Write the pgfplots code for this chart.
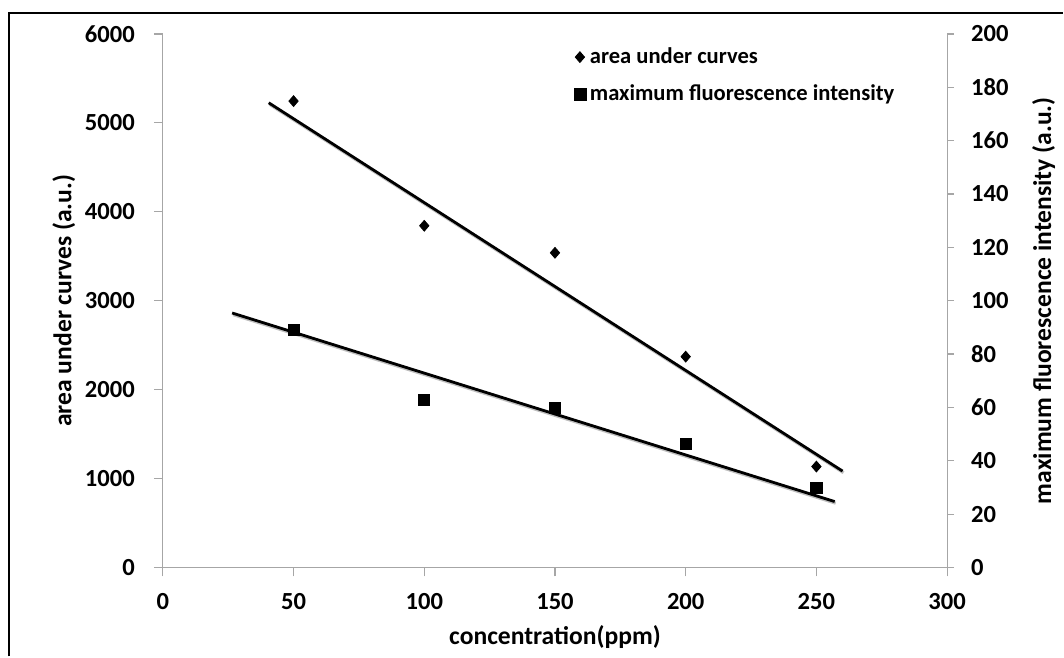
\documentclass[border=0pt]{standalone}
\usepackage{pgfplots}
\pgfplotsset{compat=1.18}
\usepackage{fontspec}
\setmainfont{Carlito}
\begin{document}
\begin{tikzpicture}[font=\bfseries]
\pgfplotsset{
  every axis/.append style={
    scale only axis, width=392.5pt, height=267pt,
    at={(81.5pt,44.5pt)}, anchor=south west,
    /pgf/number format/assume math mode=true,
    /pgf/number format/1000 sep={},
    tick label style={font=\fontsize{12.3}{14}\selectfont\bfseries},
    label style={font=\fontsize{12.8}{15}\selectfont\bfseries},
    xmin=0, xmax=300,
    axis line style={gray!70, line width=0.6pt},
    tick style={gray!70, line width=0.6pt},
    tick align=outside, major tick length=4.5pt,
  }
}
\begin{axis}[
  axis x line*=bottom, axis y line*=left,
  ymin=0, ymax=6000, ytick={0,1000,...,6000},
  xtick={0,50,...,300},
  xticklabel style={yshift=-5pt},
  yticklabel style={xshift=-6pt},
  ylabel={area under curves (a.u.)},
  xlabel={concentration(ppm)},
  xlabel style={yshift=-1pt},
  ylabel style={yshift=-2pt},
  legend style={draw=none, fill=none, at={(0.516,0.99)}, anchor=north west,
    font=\fontsize{11.3}{13}\selectfont\bfseries, row sep=5pt,
    legend cell align=left},
  legend image code/.code={\draw[#1] plot coordinates {(0.15cm,0cm)};},
]
\addplot[only marks, mark=diamond*, mark size=2.7pt, mark options={xscale=1.15}, black]
  coordinates {(50,5245) (100,3843) (150,3539) (200,2371) (250,1135)};
\addlegendentry{area under curves}
\addlegendimage{only marks, mark=square*, mark size=3pt, black}
\addlegendentry{maximum fluorescence intensity}
\addplot[gray!50, line width=1.6pt, forget plot, shift={(0.5pt,-0.8pt)}]
  coordinates {(40.5,5226) (260,1084)};
\addplot[black, line width=1.4pt, forget plot]
  coordinates {(40.5,5226) (260,1084)};
\end{axis}
\begin{axis}[
  axis x line=none, axis y line*=right,
  ymin=0, ymax=200, ytick={0,20,...,200},
  yticklabel style={xshift=5pt},
  ylabel={maximum fluorescence intensity (a.u.)},
  ylabel style={yshift=-5pt},
  major tick length=3.5pt,
]
\addplot[gray!50, line width=1.6pt, shift={(0.5pt,-0.8pt)}]
  coordinates {(26.5,95.4) (257,24.7)};
\addplot[black, line width=1.4pt]
  coordinates {(26.5,95.4) (257,24.7)};
\addplot[only marks, mark=square*, mark size=2.8pt, black]
  coordinates {(50,89.1) (100,62.9) (150,59.9) (200,46.4) (250,29.9)};
\end{axis}
\draw[black, line width=1pt] (4.5pt,0pt) -- (4.5pt,322.2pt) -- (532pt,322.2pt);
\path[use as bounding box] (0,0) rectangle (532pt,328.5pt);
\end{tikzpicture}
\end{document}
